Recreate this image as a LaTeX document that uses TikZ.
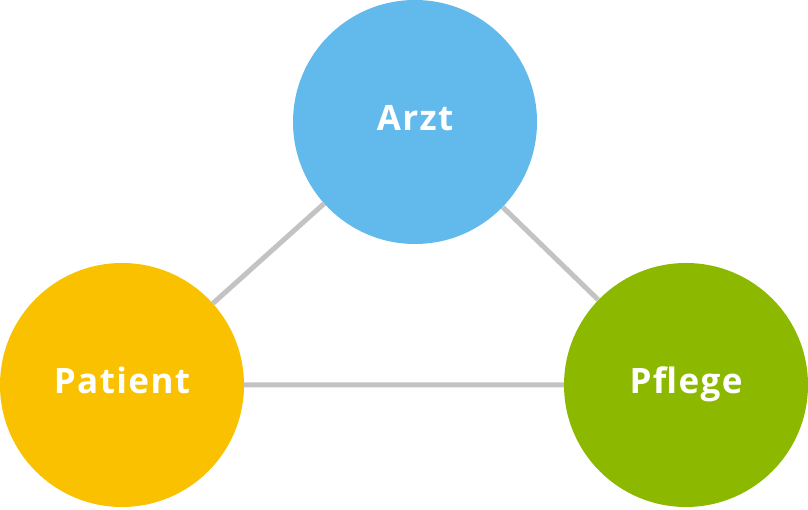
\documentclass[tikz,border=0pt]{standalone}
\usepackage{fontspec}
\setmainfont{Open Sans}
\newfontfamily\rolefont[LetterSpace=4]{Open Sans}
\usepackage{xcolor}
\usetikzlibrary{positioning}

\definecolor{arztblue}{HTML}{62B9EC}
\definecolor{patientgold}{HTML}{F9C100}
\definecolor{pflegegreen}{HTML}{8CB900}
\definecolor{linkgray}{HTML}{C3C3C3}

\begin{document}
\begin{tikzpicture}[x=1pt,y=1pt,
  role node/.style={circle,minimum size=244pt,inner sep=0pt,text=white,
    text height=25pt,text depth=8pt,
    font=\rolefont\fontsize{35}{40}\selectfont\bfseries},
  link/.style={draw=linkgray,line width=5pt}]

\useasboundingbox (0,0) rectangle (808,510);

\node[role node,fill=arztblue] (arzt) at (415,388) {Arzt};
\node[role node,fill=patientgold] (patient) at (122,125) {Patient};
\node[role node,fill=pflegegreen] (pflege) at (686,125) {Pflege};

% Verbindungen zwischen den Rollen
\path[link]
(arzt) -- (patient)
(arzt) -- (pflege)
(patient) -- (pflege);
\end{tikzpicture}
\end{document}
